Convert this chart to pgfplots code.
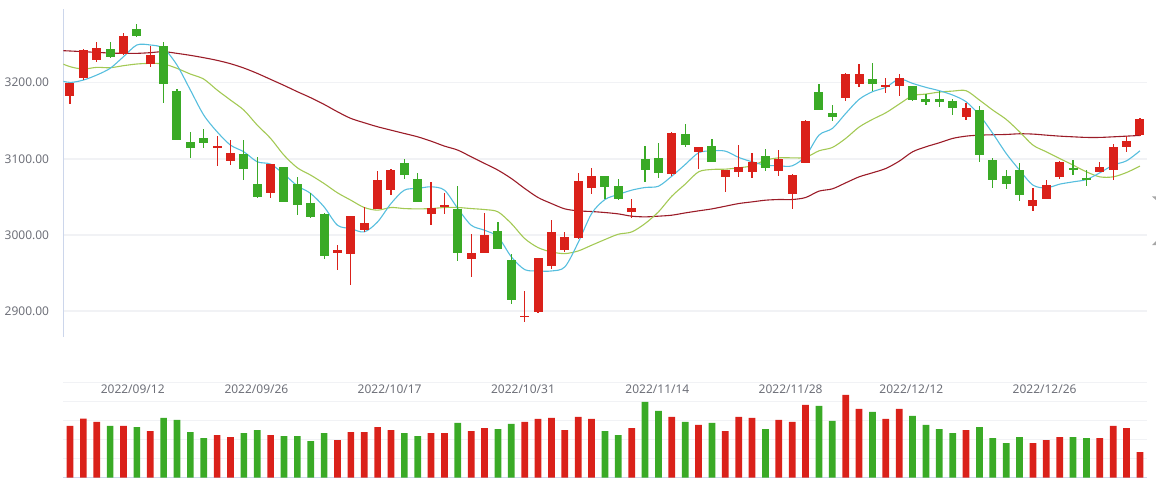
\documentclass[border=0pt]{standalone}
\usepackage{pgfplots}
\pgfplotsset{compat=1.18}
\usepackage{pgfplotstable}
\usepackage{fontspec}
\setmainfont{Noto Sans}
\definecolor{upred}{RGB}{218,33,26}
\definecolor{dngreen}{RGB}{58,170,38}
\definecolor{maA}{RGB}{86,190,222}
\definecolor{maB}{RGB}{163,201,84}
\definecolor{maC}{RGB}{155,28,40}
\definecolor{gridc}{RGB}{241,242,245}
\definecolor{axisc}{RGB}{204,214,235}
\definecolor{labelc}{RGB}{110,112,121}

\pgfplotstableread{
i o h l c v
0 3182.9 3199.5 3171.9 3199.1 155
1 3206.6 3244.3 3203.5 3243.0 177
2 3230.3 3253.5 3227.6 3245.2 167
4 3237.7 3265.4 3236.4 3261.4 155
6 3224.1 3248.2 3221.0 3236.0 140
11 3114.9 3130.3 3090.8 3117.1 128
12 3097.4 3124.6 3092.1 3108.3 122
15 3055.3 3093.5 3048.7 3093.0 128
20 2976.3 2986.4 2953.5 2979.8 113
21 2975.0 3024.6 2933.8 3024.6 137
22 3006.1 3036.8 3004.0 3015.4 137
23 3033.8 3083.8 3033.8 3071.9 152
24 3059.2 3086.4 3052.2 3085.1 143
27 3027.6 3069.3 3013.2 3035.1 134
28 3036.8 3054.8 3027.6 3038.9 134
30 2968.4 3000.9 2944.7 2975.9 140
31 2976.3 3028.5 2976.0 2999.6 149
34 2892.5 2925.9 2885.7 2893.5 167
35 2898.7 2969.3 2897.4 2969.3 176
36 2959.2 3019.3 2954.8 3003.5 179
37 2980.3 3003.5 2977.2 2996.9 143
38 2996.0 3081.1 2995.0 3070.6 182
39 3061.8 3087.7 3053.9 3077.2 176
42 3029.8 3046.9 3022.4 3035.1 149
45 3080.3 3135.1 3077.8 3133.8 182
47 3109.2 3115.8 3086.4 3115.4 158
49 3076.3 3085.5 3056.6 3085.1 140
50 3082.9 3118.0 3076.3 3089.5 182
51 3082.9 3107.5 3075.0 3096.1 179
53 3084.2 3111.4 3077.8 3100.4 173
54 3053.9 3079.8 3034.2 3078.5 167
55 3094.7 3150.9 3094.7 3149.6 218
58 3180.3 3212.7 3176.3 3211.4 248
59 3198.7 3224.6 3194.7 3211.4 206
61 3194.7 3206.1 3186.8 3196.5 176
62 3196.1 3211.4 3182.9 3206.1 206
67 3155.3 3173.2 3150.9 3166.7 143
72 3038.2 3061.8 3031.6 3045.6 104
73 3047.4 3072.0 3047.0 3065.4 113
74 3076.3 3096.9 3073.7 3095.6 122
77 3082.5 3095.6 3082.5 3089.0 119
78 3085.5 3119.3 3072.4 3115.4 155
79 3115.8 3129.8 3109.2 3123.2 149
80 3131.6 3153.5 3130.3 3152.2 77
}\uptab

\pgfplotstableread{
i o h l c v
3 3243.9 3253.5 3232.9 3234.2 155
5 3270.2 3277.2 3259.6 3261.8 152
7 3248.2 3253.5 3173.7 3198.7 179
8 3189.0 3191.2 3124.5 3125.0 173
9 3121.5 3134.6 3101.3 3114.5 137
10 3127.2 3139.0 3114.5 3121.1 119
13 3106.1 3124.6 3071.9 3086.8 134
14 3066.7 3102.6 3048.7 3050.0 143
16 3088.6 3089.0 3043.0 3043.4 125
17 3066.7 3075.9 3025.9 3039.5 125
18 3041.7 3054.8 3022.4 3023.7 110
19 3027.6 3028.5 2968.0 2972.4 134
25 3094.3 3099.6 3073.3 3079.0 134
26 3073.3 3081.2 3043.0 3043.4 125
29 3033.8 3064.0 2965.8 2976.3 164
32 3004.8 3016.7 2981.6 2981.6 146
33 2966.7 2974.6 2909.2 2914.5 161
40 3077.2 3077.5 3046.9 3063.2 140
41 3064.0 3073.3 3045.6 3046.9 128
43 3099.6 3116.7 3069.3 3085.5 227
44 3100.9 3120.6 3075.0 3081.6 200
46 3132.5 3145.6 3115.8 3118.4 167
48 3116.7 3125.9 3096.0 3096.1 164
52 3103.5 3112.7 3084.2 3088.2 146
56 3187.7 3198.2 3164.0 3164.5 215
57 3160.1 3170.6 3149.6 3155.3 170
60 3204.8 3225.9 3189.5 3198.7 197
63 3195.6 3196.0 3176.3 3177.2 185
64 3178.5 3185.5 3171.1 3175.0 158
65 3178.5 3189.0 3168.4 3175.0 146
66 3175.9 3178.5 3157.9 3167.1 134
68 3164.0 3169.3 3096.1 3105.3 152
69 3098.2 3100.9 3061.8 3072.4 119
70 3077.2 3085.1 3060.5 3067.1 104
71 3085.1 3094.3 3044.7 3052.2 122
75 3087.3 3098.2 3078.9 3085.5 122
76 3075.4 3085.1 3064.5 3072.8 119
}\dntab

\pgfplotstableread{
i a b c
-1 3203.9 3228.1 3242.5
0 3200.4 3221.1 3241.7
1 3203.5 3218.0 3240.8
2 3210.1 3220.2 3239.9
3 3218.9 3219.7 3239.0
4 3234.2 3222.4 3238.6
5 3249.6 3224.6 3238.6
6 3249.6 3225.4 3239.5
7 3245.2 3224.6 3240.8
8 3223.2 3218.9 3238.6
9 3190.4 3211.4 3236.0
10 3157.5 3204.8 3232.9
11 3135.5 3190.4 3229.4
12 3118.0 3177.2 3225.0
13 3109.2 3164.0 3219.3
14 3096.1 3144.3 3212.3
15 3093.0 3126.8 3204.4
16 3079.8 3104.8 3196.5
17 3064.5 3088.2 3188.2
18 3054.4 3078.5 3180.3
19 3036.8 3067.5 3171.5
20 3012.7 3055.3 3161.8
21 3008.3 3045.6 3153.1
22 3003.9 3036.0 3147.4
23 3017.1 3032.5 3142.1
24 3041.2 3036.0 3137.7
25 3058.8 3034.6 3133.3
26 3061.0 3034.2 3128.9
27 3063.2 3034.6 3123.2
28 3058.8 3036.0 3116.7
29 3034.6 3036.0 3111.4
30 3012.7 3034.6 3102.6
31 3006.1 3033.3 3093.9
32 2997.4 3030.3 3085.1
33 2971.1 3014.9 3074.1
34 2954.4 2995.2 3061.0
35 2952.6 2983.3 3049.1
36 2952.6 2977.6 3041.2
37 2957.9 2975.4 3034.2
38 2990.0 2978.9 3031.6
39 3028.0 2986.4 3030.7
40 3046.5 2993.9 3029.4
41 3053.1 3000.9 3027.6
42 3058.8 3003.9 3024.6
43 3062.3 3014.9 3023.7
44 3064.0 3030.3 3024.6
45 3077.2 3050.9 3025.9
46 3092.5 3066.7 3028.9
47 3107.9 3082.9 3031.6
48 3110.5 3086.0 3034.2
49 3110.1 3086.4 3037.7
50 3101.8 3088.2 3041.2
51 3096.1 3090.8 3043.4
52 3091.7 3098.2 3045.6
53 3090.8 3101.3 3046.5
54 3090.8 3101.3 3046.5
55 3103.5 3101.8 3049.1
56 3131.1 3110.5 3057.5
57 3139.9 3114.9 3060.5
58 3159.6 3126.8 3068.4
59 3178.1 3141.7 3076.3
60 3188.2 3151.8 3081.6
61 3193.9 3160.5 3087.3
62 3204.8 3171.9 3096.9
63 3199.1 3182.9 3109.2
64 3193.9 3185.1 3115.8
65 3189.5 3187.7 3121.1
66 3183.8 3189.0 3126.8
67 3175.0 3189.5 3129.8
68 3157.5 3177.2 3131.1
69 3133.3 3164.0 3131.6
70 3107.0 3151.8 3132.0
71 3085.1 3135.5 3132.9
72 3065.4 3118.0 3132.5
73 3061.8 3109.2 3131.1
74 3066.7 3100.4 3129.8
75 3069.7 3091.7 3128.9
76 3072.8 3082.9 3128.1
77 3081.6 3076.3 3128.1
78 3091.7 3076.3 3128.9
79 3097.4 3082.0 3129.8
80 3110.5 3090.4 3130.7
}\matab

\pgfplotsset{
  candle/.style 2 args={draw=none, mark=none, mark size=0pt,
    error bars/.cd, y dir=both, y explicit, error mark=none,
    error bar style={draw=#1, line width=#2}},
}

\begin{document}
\begin{tikzpicture}[x=1pt,y=1pt]
\useasboundingbox (0,0) rectangle (1156,480);
% price panel
\begin{axis}[
  at={(63.3pt,143pt)}, anchor=south west, scale only axis,
  width=1083.4pt, height=327.7pt,
  xmin=-0.5, xmax=80.5, ymin=2865.8, ymax=3296.5,
  axis lines*=left,
  x axis line style={draw=none},
  y axis line style={draw=axisc, line width=1pt},
  xtick=\empty,
  ytick={2900,3000,3100,3200},
  yticklabels={2900.00,3000.00,3100.00,3200.00},
  major tick length=0pt,
  ymajorgrids, grid style={draw=gridc, line width=1.5pt},
  yticklabel style={font=\fontsize{12}{14}\selectfont, text=labelc, inner sep=0pt, anchor=east, xshift=-14pt},
]
\addplot[maC, line width=1.1pt, smooth, mark=none] table[x=i, y=c] {\matab};
\addplot[maB, line width=1.1pt, smooth, mark=none] table[x=i, y=b] {\matab};
\addplot[maA, line width=1.1pt, smooth, mark=none] table[x=i, y=a] {\matab};
% wicks
\addplot[candle={upred}{1.2pt}]
  table[x=i, y expr={(\thisrow{h}+\thisrow{l})/2}, y error expr={(\thisrow{h}-\thisrow{l})/2}] {\uptab};
\addplot[candle={dngreen}{1.2pt}]
  table[x=i, y expr={(\thisrow{h}+\thisrow{l})/2}, y error expr={(\thisrow{h}-\thisrow{l})/2}] {\dntab};
% bodies
\addplot[candle={upred}{9pt}]
  table[x=i, y expr={(\thisrow{o}+\thisrow{c})/2}, y error expr={max(abs(\thisrow{c}-\thisrow{o})/2,0.7)}] {\uptab};
\addplot[candle={dngreen}{9pt}]
  table[x=i, y expr={(\thisrow{o}+\thisrow{c})/2}, y error expr={max(abs(\thisrow{c}-\thisrow{o})/2,0.7)}] {\dntab};
\end{axis}
% volume panel
\begin{axis}[
  at={(63.3pt,2.3pt)}, anchor=south west, scale only axis,
  width=1083.4pt, height=95.4pt,
  xmin=-0.5, xmax=80.5, ymin=0, ymax=286,
  axis lines*=left,
  y axis line style={draw=none},
  x axis line style={draw=axisc, line width=1pt},
  xtick=\empty,
  ytick={57.2,114.4,171.6,228.8,286},
  yticklabels={},
  major tick length=0pt,
  ymajorgrids, grid style={draw=gridc, line width=1.2pt},
  clip=false,
]
\addplot[ybar, bar width=6.7pt, bar shift=0pt, fill=upred, draw=none] table[x=i, y=v] {\uptab};
\addplot[ybar, bar width=6.7pt, bar shift=0pt, fill=dngreen, draw=none] table[x=i, y=v] {\dntab};
\begin{scope}[every node/.style={font=\fontsize{12}{14}\selectfont, text=labelc, inner sep=0pt}]
\node at (axis cs:4.69,265.9) {2022/09/12};
\node at (axis cs:13.94,265.9) {2022/09/26};
\node at (axis cs:23.90,265.9) {2022/10/17};
\node at (axis cs:33.87,265.9) {2022/10/31};
\node at (axis cs:43.92,265.9) {2022/11/14};
\node at (axis cs:53.88,265.9) {2022/11/28};
\node at (axis cs:62.91,265.9) {2022/12/12};
\node at (axis cs:72.87,265.9) {2022/12/26};
\end{scope}
\end{axis}
% data zoom handle marks at right edge
\fill[gray!70] (1152,283.5) -- (1156,283.5) -- (1156,280) -- cycle;
\fill[gray!70] (1156,239) -- (1156,235) -- (1152,235) -- cycle;
\end{tikzpicture}
\end{document}
